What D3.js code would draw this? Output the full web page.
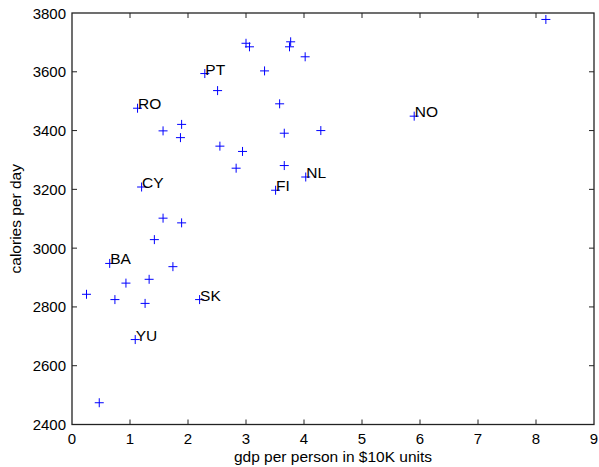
<!DOCTYPE html>
<html>
<head>
<meta charset="utf-8">
<script src="https://cdn.jsdelivr.net/npm/d3@7"></script>
<style>
body { margin: 0; background: #fff; }
text { font-family: "Liberation Sans", Arial, sans-serif; fill: #000; }
</style>
</head>
<body>
<svg width="599" height="467"></svg>
<script>
// gdp per person (in $10K) and calories per day
var gdp = [3.00, 3.06, 3.77, 3.75, 3.32, 2.29, 2.51, 3.58, 1.13, 1.57,
           1.89, 1.87, 3.66, 2.55, 2.94, 2.83, 3.66, 3.51, 1.20, 1.57,
           1.89, 8.17, 4.02, 5.90, 4.29, 4.03, 1.42, 0.65, 1.74, 0.93,
           1.33, 0.25, 0.74, 1.26, 2.20, 1.09, 0.47];
var calories = [3697, 3685, 3702, 3685, 3603, 3594, 3536, 3491, 3476, 3399,
                3421, 3376, 3391, 3347, 3329, 3272, 3281, 3197, 3208, 3102,
                3086, 3778, 3651, 3449, 3400, 3242, 3029, 2948, 2937, 2881,
                2894, 2843, 2825, 2812, 2825, 2689, 2474];
var codes = ["", "", "", "", "", "PT", "", "", "RO", "",
             "", "", "", "", "", "", "", "FI", "CY", "",
             "", "", "", "NO", "", "NL", "", "BA", "", "",
             "", "", "", "", "SK", "YU", ""];
var xTicks = [0, 1, 2, 3, 4, 5, 6, 7, 8, 9];
var yTicks = [2400, 2600, 2800, 3000, 3200, 3400, 3600, 3800];

var svg = d3.select("svg"),
    left = 72, right = 594, plotTop = 13, plotBottom = 424.5;

var x = d3.scaleLinear().domain([0, 9]).range([left, right]);
var y = d3.scaleLinear().domain([2400, 3800]).range([plotBottom, plotTop]);

var axisColor = "#222";

// ticks (inside, mirrored on top/right)
var tl = 5;
svg.append("g").selectAll("line")
  .data(xTicks.slice(1, -1))
  .enter().append("line")
  .attr("x1", function(d) { return x(d); }).attr("x2", function(d) { return x(d); })
  .attr("y1", plotBottom).attr("y2", plotBottom - tl)
  .attr("stroke", axisColor).attr("stroke-width", 1);
svg.append("g").selectAll("line")
  .data(xTicks.slice(1, -1))
  .enter().append("line")
  .attr("x1", function(d) { return x(d); }).attr("x2", function(d) { return x(d); })
  .attr("y1", plotTop).attr("y2", plotTop + tl)
  .attr("stroke", axisColor).attr("stroke-width", 1);
svg.append("g").selectAll("line")
  .data(yTicks.slice(1, -1))
  .enter().append("line")
  .attr("y1", function(d) { return y(d); }).attr("y2", function(d) { return y(d); })
  .attr("x1", left).attr("x2", left + tl)
  .attr("stroke", axisColor).attr("stroke-width", 1);
svg.append("g").selectAll("line")
  .data(yTicks.slice(1, -1))
  .enter().append("line")
  .attr("y1", function(d) { return y(d); }).attr("y2", function(d) { return y(d); })
  .attr("x1", right).attr("x2", right - tl)
  .attr("stroke", axisColor).attr("stroke-width", 1);

// frame
svg.append("rect")
  .attr("x", left).attr("y", plotTop)
  .attr("width", right - left).attr("height", plotBottom - plotTop)
  .attr("fill", "none").attr("stroke", axisColor).attr("stroke-width", 1.3);

// tick labels
svg.append("g").selectAll("text")
  .data(xTicks)
  .enter().append("text")
  .attr("x", function(d) { return x(d); })
  .attr("y", plotBottom + 19.5)
  .attr("text-anchor", "middle")
  .attr("font-size", "15px")
  .text(function(d) { return d; });
svg.append("g").selectAll("text")
  .data(yTicks)
  .enter().append("text")
  .attr("x", left - 6)
  .attr("y", function(d) { return y(d) + 5.5; })
  .attr("text-anchor", "end")
  .attr("font-size", "15px")
  .text(function(d) { return d; });

// axis titles
svg.append("text")
  .attr("x", (left + right) / 2)
  .attr("y", 462)
  .attr("text-anchor", "middle")
  .attr("font-size", "15.5px")
  .text("gdp per person in $10K units");
svg.append("text")
  .attr("transform", "translate(21," + (plotTop + plotBottom) / 2 + ") rotate(-90)")
  .attr("text-anchor", "middle")
  .attr("font-size", "15.5px")
  .text("calories per day");

// plus markers
var pts = gdp.map(function(d, i) { return { gx: d, cal: calories[i], code: codes[i] }; });
var m = 4.5;
svg.append("g").selectAll("path")
  .data(pts)
  .enter().append("path")
  .attr("d", function(d) {
    var px = x(d.gx), py = y(d.cal);
    return "M" + (px - m) + "," + py + "H" + (px + m) + "M" + px + "," + (py - m) + "V" + (py + m);
  })
  .attr("stroke", "#0000ff").attr("stroke-width", 1).attr("fill", "none");

// country codes
svg.append("g").selectAll("text")
  .data(pts.filter(function(d) { return d.code; }))
  .enter().append("text")
  .attr("x", function(d) { return x(d.gx) + 0.5; })
  .attr("y", function(d) { return y(d.cal) + 1; })
  .attr("font-size", "15.5px")
  .text(function(d) { return d.code; });
</script>
</body>
</html>
